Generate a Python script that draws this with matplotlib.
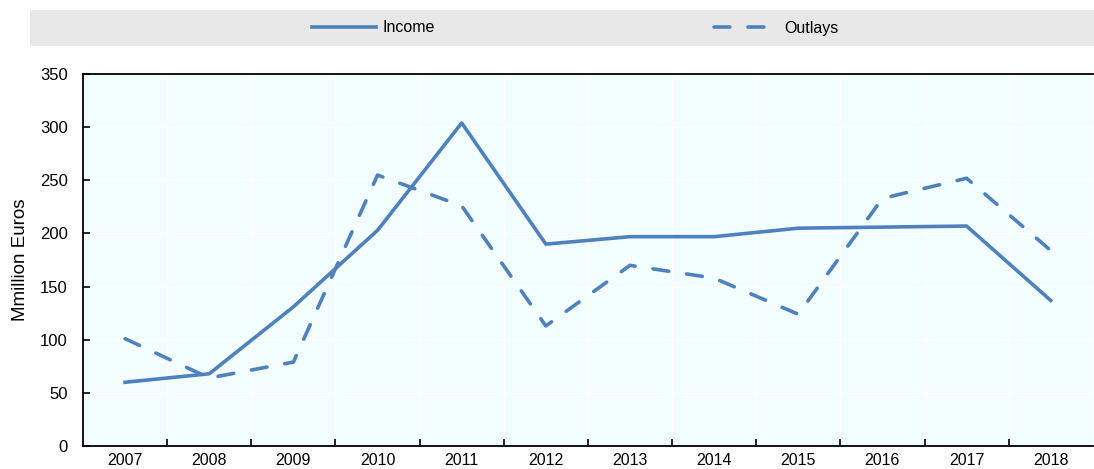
import matplotlib.pyplot as plt
from matplotlib.patches import Rectangle

plt.rcParams['font.family'] = ['Liberation Sans', 'DejaVu Sans']

years = ['2007', '2008', '2009', '2010', '2011', '2012', '2013', '2014', '2015', '2016', '2017', '2018']
income = [60, 68, 131, 203, 304, 190, 197, 197, 205, 206, 207, 137]
outlays = [101, 64, 79, 255, 226, 113, 170, 158, 124, 233, 252, 184]

blue = '#4F81BD'

fig = plt.figure(figsize=(10.94, 4.69), dpi=100)
ax = fig.add_axes([0.0759, 0.049, 0.923, 0.793])
ax.set_facecolor('#F2FEFF')

x = list(range(len(years)))
ax.plot(x, income, color=blue, lw=2.6, label='Income')
ax.plot(x, outlays, color=blue, lw=2.6, ls=(0, (4.4, 5.0)),
        dash_capstyle='round', label='Outlays')

ax.set_xlim(-0.5, len(years) - 0.5)
ax.set_ylim(0, 350)
ax.set_yticks(range(0, 351, 50))
ax.set_xticks(x)
ax.set_xticklabels(years)
ax.set_xticks([i + 0.5 for i in x[:-1]], minor=True)
ax.tick_params(axis='x', which='major', length=0, labelsize=11.5, pad=5)
ax.tick_params(axis='x', which='minor', direction='in', length=5, width=1.2)
ax.tick_params(axis='y', direction='in', length=5, width=1.2, labelsize=12, pad=11)
ax.grid(True, which='minor', axis='x', color='white', lw=1)
ax.grid(True, which='major', axis='y', color='white', lw=1)
ax.set_axisbelow(True)

for s in ['left', 'bottom', 'top']:
    ax.spines[s].set_linewidth(1.3)
    ax.spines[s].set_color('black')
ax.spines['right'].set_visible(False)

ax.set_ylabel('Mmillion Euros', fontsize=13.5, labelpad=8)

# legend band
fig.patches.append(Rectangle((30 / 1094, 1 - 46 / 469), 1064 / 1094, 36 / 469,
                             transform=fig.transFigure, facecolor='#E8E8E8',
                             edgecolor='none', zorder=0))
fig.legend(loc='center', bbox_to_anchor=(0.526, 1 - 28 / 469), ncol=2,
           frameon=False, fontsize=11.5, handlelength=4.0, columnspacing=17.5,
           handletextpad=0.4)

fig.savefig('out.png', dpi=100)
